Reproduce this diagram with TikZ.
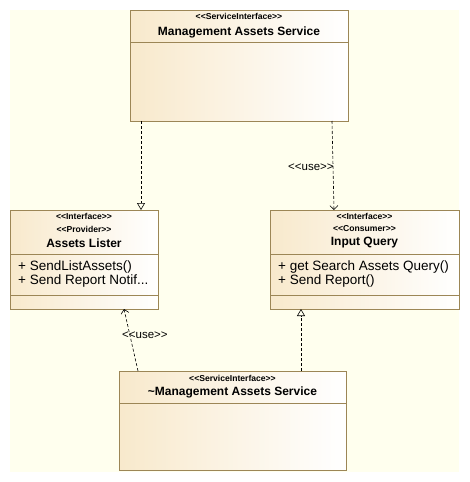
\documentclass[tikz,border=0pt]{standalone}
\usepackage{fontspec}
\setmainfont{Liberation Sans}
\usetikzlibrary{arrows.meta}
\definecolor{bgcol}{HTML}{FFFFEE}
\definecolor{boxtan}{HTML}{F8E9CC}
\definecolor{boxline}{HTML}{9C8656}
\newcommand\ster[1]{<{}<#1>{}>}
\tikzset{
  umlbox/.style={draw=boxline, line width=0.9pt, left color=boxtan, right color=white, anchor=north west, inner sep=0pt, outer sep=0pt},
  divider/.style={draw=boxline, line width=0.9pt},
  stereo/.style={font=\fontsize{8.6}{9}\selectfont\bfseries, inner sep=0pt, anchor=center},
  cname/.style={font=\fontsize{12}{13}\selectfont\bfseries, inner sep=0pt, anchor=center},
  oper/.style={font=\fontsize{13.5}{14}\selectfont, inner sep=0pt, anchor=west},
  uselbl/.style={font=\fontsize{11.5}{12}\selectfont, inner sep=0pt, anchor=west},
  realize/.style={draw=black, line width=0.6pt, dash pattern=on 3pt off 2pt, -{Triangle[open, length=7pt, width=8pt]}},
  usedep/.style={draw=black, line width=0.6pt, dash pattern=on 3pt off 2pt, -{Straight Barb[length=4pt, width=8pt]}},
}
\begin{document}
\begin{tikzpicture}[x=1pt, y=-1pt]
\useasboundingbox (0,0) rectangle (469,482);
\fill[bgcol] (10,10) rectangle (459,472);

% top box
\node[umlbox, minimum width=218pt, minimum height=111pt] (mas) at (130,10) {};
\draw[divider] (130,42) -- (348,42);
\node[stereo] (masst) at (239,16.5) {\ster{ServiceInterface}};
\node[cname] (masname) at (239,32) {Management Assets Service};

% Assets Lister
\node[umlbox, minimum width=148pt, minimum height=99pt] (lister) at (10,210) {};
\draw[divider] (10,254) -- (158,254);
\draw[divider] (10,295) -- (158,295);
\node[stereo] (lst1) at (84,216.5) {\ster{Interface}};
\node[stereo] (lst2) at (84,229) {\ster{Provider}};
\node[cname] (lname) at (84,243) {Assets Lister};
\node[oper] (lop1) at (18,267) {+ SendListAssets()};
\node[oper] (lop2) at (18,281) {+ Send Report Notif...};

% Input Query
\node[umlbox, minimum width=189pt, minimum height=99pt] (query) at (270,210) {};
\draw[divider] (270,254) -- (459,254);
\draw[divider] (270,295) -- (459,295);
\node[stereo] (qst1) at (364.5,216.5) {\ster{Interface}};
\node[stereo] (qst2) at (364.5,229) {\ster{Consumer}};
\node[cname] (qname) at (364.5,243) {Input Query};
\node[oper] (qop1) at (278,267) {+ get Search Assets Query()};
\node[oper] (qop2) at (278,281) {+ Send Report()};

% bottom box
\node[umlbox, minimum width=227pt, minimum height=99pt] (tilde) at (119,371) {};
\draw[divider] (119,403) -- (346,403);
\node[stereo] (tst) at (232.5,378) {\ster{ServiceInterface}};
\node[cname] (tname) at (232.5,392) {\char`\~Management Assets Service};

% connectors
\draw[realize] ([xshift=11pt]mas.south west) -- ([xshift=131pt]lister.north west);
\draw[usedep] ([xshift=202pt]mas.south west) -- ([xshift=64pt]query.north west);
\node[uselbl] (use1) at (288,167) {\ster{use}};
\draw[usedep] ([xshift=19pt]tilde.north west) -- ([xshift=114pt]lister.south west);
\node[uselbl] (use2) at (122,335) {\ster{use}};
\draw[realize] ([xshift=182pt]tilde.north west) -- ([xshift=31pt]query.south west);
\end{tikzpicture}
\end{document}
